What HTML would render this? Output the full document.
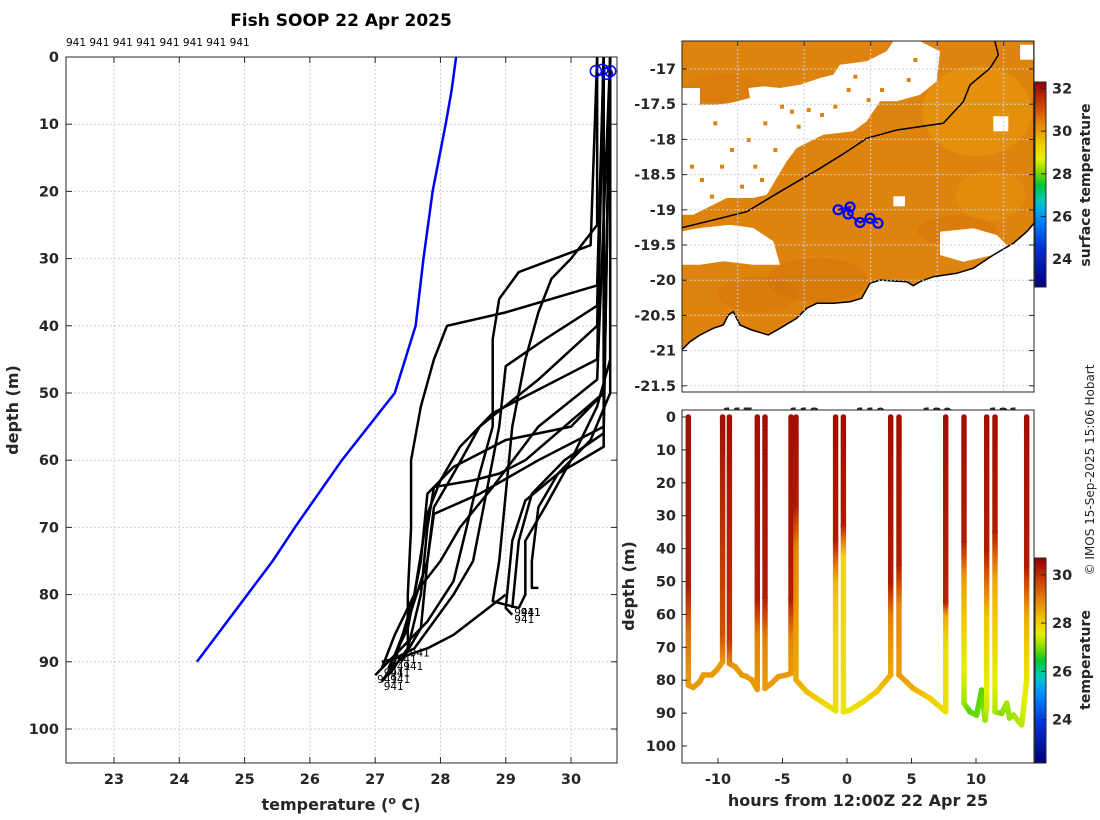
<!DOCTYPE html>
<html><head><meta charset="utf-8">
<style>
html,body{margin:0;padding:0;background:#fff;}
svg{display:block;font-family:"DejaVu Sans","Liberation Sans",sans-serif;}
.tk{font-size:14.5px;font-weight:bold;fill:#262626;}
.lb{font-size:16px;font-weight:bold;fill:#262626;}
</style></head>
<body>
<svg id="fig" width="1100" height="820" viewBox="0 0 1100 820" xmlns="http://www.w3.org/2000/svg">
<rect width="1100" height="820" fill="#fff"/>
<text x="341" y="26" text-anchor="middle" style="font-size:17px;font-weight:bold" fill="#000">Fish SOOP 22 Apr 2025</text>
<text x="66" y="46" style="font-size:10.5px" fill="#000">941 941 941 941 941 941 941 941</text>
<g id="left"></g>
<g id="map"></g>
<g id="bottom"></g>
<text transform="translate(1094,470) rotate(-90)" text-anchor="middle" style="font-size:12px" fill="#262626">© IMOS 15-Sep-2025 15:06 Hobart</text>
</svg>
<script>
// ---------- LEFT CHART DATA ----------
const tempTicks = [23,24,25,26,27,28,29,30];
const depthTicks = [0,10,20,30,40,50,60,70,80,90,100];
const climTemps = [28.24,28.17,28.08,27.88,27.74,27.62,27.30,26.49,25.77,25.43,24.27];
const climDepths = [0,5,10,20,30,40,50,60,70,75,90];
const profTemps = [
 [30.4,30.4,30.0,29.7,29.5,29.3,29.1,29.0,28.9,28.8,29.2],
 [30.5,30.4,29.0,28.1,27.9,27.7,27.55,27.55,27.5,27.5,27.2],
 [30.5,30.4,29.8,28.8,28.3,28.0,27.8,27.6,27.3,27.1],
 [30.6,30.5,30.0,29.0,28.2,27.8,27.7,27.5,27.2],
 [30.5,30.4,29.6,29.0,28.9,28.7,28.5,28.2,27.9,27.6,27.2],
 [30.6,30.5,29.5,28.6,27.9,27.8,27.7,27.4],
 [30.5,30.5,29.8,29.3,29.1,29.0,29.1],
 [30.6,30.5,29.9,29.4,29.2,29.1],
 [30.6,30.6,30.4,30.0,29.6,29.3,29.3,29.2],
 [30.5,30.4,29.5,28.6,28.2,27.9,27.8,27.5,27.3],
 [30.6,30.4,29.5,28.8,28.3,28.0,27.6,27.3,27.1],
 [30.4,30.3,29.2,28.9,28.8,28.8,28.6,28.4,28.2,27.8,27.3,27.0],
 [30.5,30.5,29.9,29.3,28.9,28.5,27.9,27.8,27.7,27.5],
 [30.6,30.6,30.3,29.8,29.5,29.4,29.4,29.5],
 [29.0,28.6,28.2,27.8,27.5,27.1]
];
const profDepths = [
 [0,25,30,33,38,45,55,65,75,81,82],
 [0,34,38,40,45,52,60,70,80,88,92],
 [0,45,48,53,58,63,68,80,90,93],
 [0,50,55,57,61,65,75,85,91],
 [0,37,42,46,55,65,75,80,84,88,90],
 [0,55,60,65,68,75,85,90],
 [0,58,62,66,72,82,83],
 [0,56,60,65,72,82],
 [0,45,52,60,67,72,80,82],
 [0,40,48,55,62,67,75,84,89],
 [0,48,55,64,70,75,80,86,91],
 [0,28,32,36,42,55,62,70,78,84,89,92],
 [0,50,55,60,62,63,64,70,80,88],
 [0,50,57,62,67,75,79,79],
 [80,83,86,88,89,90]
];
const surfTemps = [30.38,30.48,30.6,30.55];
const surfDepths = [1.2,1.0,1.2,1.6];

// ---------- BOTTOM RIGHT DATA ----------
const diveHours = [
 [-12.3,-12.3,-12.3,-12.3,-11.91,-11.4,-11.14,-10.49,-10.1,-9.64,-9.64,-9.64],
 [-9.12,-9.12,-9.12,-8.68,-8.16,-7.78,-7.39,-6.95,-6.95,-6.95,-6.95],
 [-6.36,-6.36,-6.36,-6.36,-5.84,-5.32,-4.67,-4.34,-4.34,-4.34,-4.34],
 [-3.95,-3.95,-3.95,-3.95,-3.95,-3.12,-2.35,-1.57,-0.88,-0.88,-0.88,-0.88,-0.88],
 [-0.28,-0.28,-0.28,-0.28,0.23,1.27,2.3,3.39,3.39,3.39,3.39],
 [4.03,4.03,4.03,4.03,5.14,6.43,7.65,7.65,7.65,7.65,7.65],
 [9.07,9.07,9.07,9.07,9.07,9.53,10.05,10.44,10.70,10.83,10.83,10.83,10.83],
 [11.47,11.47,11.47,11.47,11.99,12.38,12.6,12.89,13.54,13.93,13.93,13.93,13.93]
];
const diveDepths = [
 [0,52,66,81.5,82.2,80.4,78.4,78.4,76.9,74.4,66,0],
 [0,68,74.9,75.9,78.4,78.9,79.9,82.8,66,55,0],
 [0,55,68,82.5,80.9,78.9,78.4,77.9,66,55,0],
 [0,27,40,70,79.9,83.5,85.5,87.5,89.3,65,50,37,0],
 [0,33,43,89.6,89.1,86.5,83.5,78.4,60,50,0],
 [0,45,58,78.4,82.5,85.5,89.6,70,60,56,0],
 [0,38,50,70,87,89.6,90.6,83,92.1,88,60,40,0],
 [0,35,50,89.6,90.1,87,91.5,90.6,93.6,80,60,45,0]
];
const diveTemps = [
 [30.5,30.3,29.2,28.7,28.7,28.7,28.7,28.7,28.7,28.7,29.6,30.5],
 [30.5,30.0,29.0,28.7,28.7,28.7,28.7,28.7,29.0,30.3,30.5],
 [30.5,30.3,29.0,28.7,28.7,28.7,28.7,28.7,29.0,30.3,30.5],
 [30.5,30.3,29.0,28.6,28.5,28.3,28.1,27.9,27.8,27.9,28.3,30.3,30.5],
 [30.5,30.3,27.9,27.7,27.7,27.9,28.1,28.5,29.0,30.3,30.5],
 [30.5,30.3,28.9,28.7,28.5,28.1,27.8,27.8,28.5,30.2,30.5],
 [30.5,30.3,28.6,27.8,27.2,26.8,26.9,26.8,27.1,27.4,28.2,30.3,30.5],
 [30.5,30.3,28.5,27.3,27.0,27.2,27.1,27.2,27.3,27.7,28.5,30.3,30.5]
];
const hourTicks = [-10,-5,0,5,10];
const depthTicksB = [0,10,20,30,40,50,60,70,80,90,100];
const cbTicksB = [24,26,28,30];

// ---------- MAP DATA ----------
const latTicks = [-17,-17.5,-18,-18.5,-19,-19.5,-20,-20.5,-21,-21.5];
const lonTicks = [117,118,119,120,121];
const trackLons = [118.51,118.69,118.66,118.84,118.99,119.11];
const trackLats = [-19.0,-18.96,-19.06,-19.18,-19.12,-19.19];
const cbTicksM = [24,26,28,30,32];

const NS='http://www.w3.org/2000/svg';
function mk(parent,tag,attrs,txt){const e=document.createElementNS(NS,tag);for(const k in attrs)e.setAttribute(k,attrs[k]);if(txt!==undefined)e.textContent=txt;parent.appendChild(e);return e;}
const cmapStops=[[0,0,0,120],[0.2,0,50,220],[0.35,0,150,255],[0.42,0,200,200],[0.5,0,200,50],[0.56,120,220,0],[0.63,230,240,0],[0.7,240,200,0],[0.8,228,130,10],[0.9,200,60,0],[1,150,0,0]];
function jet(v){v=Math.max(0,Math.min(1,v));
 for(let i=1;i<cmapStops.length;i++){const a=cmapStops[i-1],b=cmapStops[i];
  if(v<=b[0]){const f=(v-a[0])/(b[0]-a[0]);return `rgb(${Math.round(a[1]+(b[1]-a[1])*f)},${Math.round(a[2]+(b[2]-a[2])*f)},${Math.round(a[3]+(b[3]-a[3])*f)})`;}}
 return 'rgb(150,0,0)';}

// ===== LEFT =====
const L=document.getElementById('left');
const xL=t=>114+(t-23)*65.29, yL=d=>57+d*6.72;
const LX0=66,LX1=617,LY0=57,LY1=763;
tempTicks.forEach(t=>{
 const g=mk(L,'line',{x1:xL(t),x2:xL(t),y1:LY0,y2:LY1,stroke:'#c8d0e6','stroke-dasharray':'2,2','stroke-width':1});
 
 mk(L,'line',{x1:xL(t),x2:xL(t),y1:LY1,y2:LY1-6,stroke:'#262626'});
 mk(L,'line',{x1:xL(t),x2:xL(t),y1:LY0,y2:LY0+6,stroke:'#262626'});
 const tx=mk(L,'text',{x:xL(t),y:784,'text-anchor':'middle',class:'tk'},String(t));
 
});
depthTicks.forEach(d=>{
 const g=mk(L,'line',{x1:LX0,x2:LX1,y1:yL(d),y2:yL(d),stroke:'#c8d0e6','stroke-dasharray':'2,2','stroke-width':1});
 
 mk(L,'line',{x1:LX0,x2:LX0+6,y1:yL(d),y2:yL(d),stroke:'#262626'});
 mk(L,'line',{x1:LX1,x2:LX1-6,y1:yL(d),y2:yL(d),stroke:'#262626'});
 const tx=mk(L,'text',{x:59,y:yL(d)+5,'text-anchor':'end',class:'tk'},String(d));
 
});
const cl=mk(L,'polyline',{points:climTemps.map((t,i)=>xL(t)+','+yL(climDepths[i])).join(' '),fill:'none',stroke:'#0000ff','stroke-width':2.5});

profTemps.forEach((ts,p)=>{
 const pl=mk(L,'polyline',{points:ts.map((t,i)=>xL(t)+','+yL(profDepths[p][i])).join(' '),fill:'none',stroke:'#000','stroke-width':2.5,'stroke-linejoin':'round'});
 
 if(p<14 && profDepths[p][profDepths[p].length-1]>80){
  const n=ts.length-1;
  const lt=mk(L,'text',{x:xL(ts[n])+2,y:yL(profDepths[p][n])+8,style:'font-size:10.5px',fill:'#000'},'941');
  
 }
});
surfTemps.forEach((t,i)=>{
 const c=mk(L,'circle',{cx:xL(t),cy:yL(surfDepths[i])+6,r:5.5,fill:'none',stroke:'#0000ff','stroke-width':1.5});
 
});
const bx=mk(L,'rect',{x:LX0,y:LY0,width:LX1-LX0,height:LY1-LY0,fill:'none',stroke:'#262626','stroke-width':1});

const xt=mk(L,'text',{x:341,y:810,'text-anchor':'middle',class:'lb'});

xt.innerHTML='temperature (<tspan dy="-6" style="font-size:11px">o</tspan><tspan dy="6"> C)</tspan>';
const yt=mk(L,'text',{transform:'translate(18,410) rotate(-90)','text-anchor':'middle',class:'lb'},'depth (m)');


// ===== MAP =====
const M=document.getElementById('map');
const xM=lon=>737.7+(lon-117)*66.5, yM=lat=>69+(-17-lat)*70.4;
const MX0=682,MX1=1034,MY0=41,MY1=392;
const zp=(arr,oy)=>arr.map(p=>(p[0]/3+680).toFixed(1)+','+(p[1]/3+(oy||35)).toFixed(1)).join(' ');
lonTicks.forEach(l=>{const tx=mk(M,'text',{x:xM(l),y:418,'text-anchor':'middle',class:'tk'},String(l));
 });
const defs=mk(M,'defs',{});
const cp=mk(defs,'clipPath',{id:'mclip'});mk(cp,'rect',{x:MX0,y:MY0,width:MX1-MX0,height:MY1-MY0});
const mg=mk(M,'g',{'clip-path':'url(#mclip)'});

const sea=[[0,0],[1062,0],[1062,565],[1040,590],[1000,625],[940,660],[880,700],[830,715],[760,725],[720,740],[700,752],[680,740],[640,738],[600,735],[570,745],[545,790],[510,800],[460,805],[410,805],[380,820],[350,850],[300,880],[265,900],[215,885],[180,870],[160,830],[145,840],[130,870],[100,880],[60,900],[30,920],[5,945],[0,945]];
mk(mg,'polygon',{points:zp(sea),fill:'#df830f'});
mk(mg,'ellipse',{cx:xM(118.2),cy:yM(-20.0),rx:50,ry:22,fill:'#d06e08',opacity:0.4});
mk(mg,'ellipse',{cx:xM(117.3),cy:yM(-20.2),rx:40,ry:18,fill:'#d06e08',opacity:0.35});
mk(mg,'ellipse',{cx:xM(116.8),cy:yM(-17.5),rx:50,ry:30,fill:'#d27309',opacity:0.35});
mk(mg,'ellipse',{cx:xM(120.3),cy:yM(-19.3),rx:40,ry:15,fill:'#d06e08',opacity:0.35});
mk(mg,'ellipse',{cx:xM(120.6),cy:yM(-17.6),rx:55,ry:45,fill:'#eb9d0a',opacity:0.5});
mk(mg,'ellipse',{cx:xM(120.8),cy:yM(-18.8),rx:35,ry:25,fill:'#e9990a',opacity:0.4});
const clouds=[
 [[5,150],[60,150],[60,200],[110,200],[150,195],[210,180],[205,150],[250,145],[300,150],[360,140],[420,120],[460,110],[480,80],[560,70],[620,40],[640,10],[720,10],[780,40],[770,130],[720,170],[650,190],[600,190],[560,250],[520,280],[430,290],[350,330],[320,370],[290,420],[260,470],[220,480],[140,480],[100,500],[40,530],[5,530]],
 [[5,580],[60,570],[150,560],[220,570],[280,610],[300,680],[220,680],[130,670],[60,680],[5,680]],
 [[780,590],[880,580],[950,600],[990,640],[940,660],[850,680],[780,660]],
 [[1020,20],[1062,20],[1062,65],[1020,65]],
 [[940,235],[985,235],[985,280],[940,280]],
 [[640,475],[675,475],[675,505],[640,505]]
];
const cloudOy=[38,38,35,38,38,38];
clouds.forEach((c,i)=>{const p=mk(mg,'polygon',{points:zp(c,cloudOy[i]),fill:'#fff'});
 });
const specks=[[300,200],[330,215],[380,210],[420,225],[460,200],[350,260],[250,250],[200,300],[150,330],[120,380],[220,380],[280,330],[500,150],[560,180],[600,150],[680,120],[700,60],[520,110],[240,420],[180,440],[60,420],[90,470],[30,380],[100,250]];
specks.forEach(s=>mk(mg,'rect',{x:s[0]/3+680,y:s[1]/3+38,width:4,height:4,fill:'#df830f'}));
const coast=mk(mg,'polyline',{points:zp(sea.slice(1,32)),fill:'none',stroke:'#000','stroke-width':1.5});

const iso=[[5,578],[100,555],[200,530],[300,470],[420,400],[500,350],[560,310],[650,285],[790,265],[850,200],[870,150],[930,100],[955,60],[945,20],[940,0]];
const il=mk(mg,'polyline',{points:zp(iso),fill:'none',stroke:'#000','stroke-width':1.5});

latTicks.forEach(l=>{
 mk(mg,'line',{x1:MX0,x2:MX1,y1:yM(l),y2:yM(l),stroke:'#c8d0e6','stroke-dasharray':'2,2'});
 mk(M,'line',{x1:MX0,x2:MX0+5,y1:yM(l),y2:yM(l),stroke:'#262626'});
 mk(M,'line',{x1:MX1,x2:MX1-5,y1:yM(l),y2:yM(l),stroke:'#262626'});
 const tx=mk(M,'text',{x:676,y:yM(l)+5,'text-anchor':'end',class:'tk'},String(l));
 
});
lonTicks.forEach(l=>{mk(mg,'line',{x1:xM(l),x2:xM(l),y1:MY0,y2:MY1,stroke:'#c8d0e6','stroke-dasharray':'2,2'});
 mk(M,'line',{x1:xM(l),x2:xM(l),y1:MY0,y2:MY0+5,stroke:'#262626'});});
mk(M,'polyline',{points:trackLons.map((l,i)=>xM(l)+','+yM(trackLats[i])).join(' '),fill:'none',stroke:'#0000ff','stroke-width':2});
trackLons.forEach((l,i)=>{const c=mk(M,'circle',{cx:xM(l),cy:yM(trackLats[i]),r:4.5,fill:'none',stroke:'#0000ff','stroke-width':2.2});
 });
const mb=mk(M,'rect',{x:MX0,y:MY0,width:MX1-MX0,height:MY1-MY0,fill:'none',stroke:'#262626'});

const cbM=(v)=>82+(32.3-v)*(205/9.6);
for(let i=0;i<205;i++){mk(M,'rect',{x:1035,y:82+i,width:11,height:1.2,fill:jet(1-i/205)});}
const cbm=mk(M,'rect',{x:1035,y:82,width:11,height:205,fill:'none',stroke:'#262626'});

cbTicksM.forEach(v=>{mk(M,'line',{x1:1041,x2:1046,y1:cbM(v),y2:cbM(v),stroke:'#262626'});
 const tx=mk(M,'text',{x:1052,y:cbM(v)+5,class:'tk'},String(v));
 });
const st=mk(M,'text',{transform:'translate(1090,185) rotate(-90)','text-anchor':'middle',style:'font-size:14px;font-weight:bold',fill:'#262626'},'surface temperature');


// ===== BOTTOM =====
const B=document.getElementById('bottom');
const xB=h=>847+h*12.9, yB=d=>417+d*3.29;
const BX0=682,BX1=1034,BY0=410,BY1=763;
const br=mk(B,'rect',{x:BX0,y:BY0,width:BX1-BX0,height:BY1-BY0,fill:'#fff'});

const cmin=22.2,cmax=30.7;
diveHours.forEach((hs,k)=>{
 const g=mk(B,'g',{});
 
 for(let i=0;i<hs.length-1;i++){
  const x1=xB(hs[i]),y1=yB(diveDepths[k][i]),x2=xB(hs[i+1]),y2=yB(diveDepths[k][i+1]);
  const len=Math.hypot(x2-x1,y2-y1),n=Math.max(1,Math.ceil(len/2.2));
  for(let j=0;j<=n;j++){const f=j/n;
   const t=diveTemps[k][i]+(diveTemps[k][i+1]-diveTemps[k][i])*f;
   mk(g,'circle',{cx:(x1+(x2-x1)*f).toFixed(1),cy:(y1+(y2-y1)*f).toFixed(1),r:2.8,fill:jet((t-cmin)/(cmax-cmin))});}
 }
});
hourTicks.forEach(h=>{mk(B,'line',{x1:xB(h),x2:xB(h),y1:BY1,y2:BY1-5,stroke:'#262626'});
 const tx=mk(B,'text',{x:xB(h),y:784,'text-anchor':'middle',class:'tk'},String(h));
 });
depthTicksB.forEach(d=>{mk(B,'line',{x1:BX0,x2:BX0+5,y1:yB(d),y2:yB(d),stroke:'#262626'});
 const tx=mk(B,'text',{x:676,y:yB(d)+5,'text-anchor':'end',class:'tk'},String(d));
 });
mk(B,'rect',{x:BX0,y:BY0,width:BX1-BX0,height:BY1-BY0,fill:'none',stroke:'#262626'});
const bxt=mk(B,'text',{x:858,y:806,'text-anchor':'middle',class:'lb'},'hours from 12:00Z 22 Apr 25');

const byt=mk(B,'text',{transform:'translate(634,586) rotate(-90)','text-anchor':'middle',class:'lb'},'depth (m)');

const cbB=v=>558+(cmax-v)*(205/(cmax-cmin));
for(let i=0;i<205;i++){mk(B,'rect',{x:1035,y:558+i,width:11,height:1.2,fill:jet(1-i/205)});}
const cbb=mk(B,'rect',{x:1035,y:558,width:11,height:205,fill:'none',stroke:'#262626'});

cbTicksB.forEach(v=>{mk(B,'line',{x1:1041,x2:1046,y1:cbB(v),y2:cbB(v),stroke:'#262626'});
 const tx=mk(B,'text',{x:1052,y:cbB(v)+5,class:'tk'},String(v));
 });
const ct=mk(B,'text',{transform:'translate(1090,660) rotate(-90)','text-anchor':'middle',style:'font-size:14px;font-weight:bold',fill:'#262626'},'temperature');

</script>
</body></html>
